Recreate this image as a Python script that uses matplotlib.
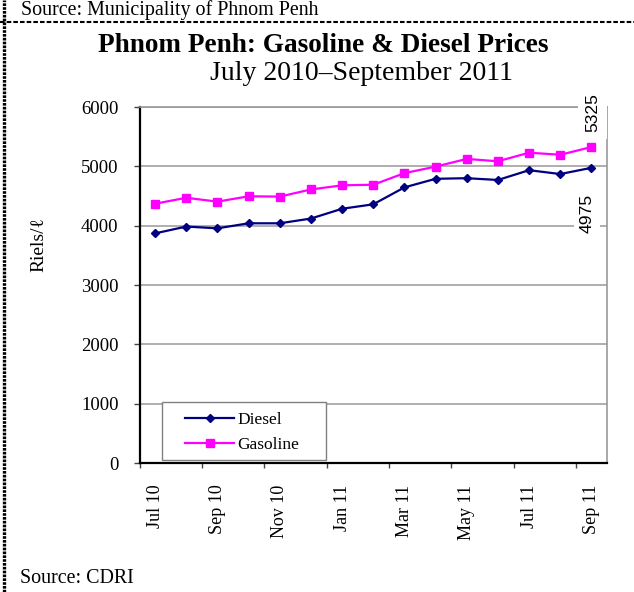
import matplotlib
matplotlib.use('Agg')
import matplotlib.pyplot as plt
from matplotlib.lines import Line2D
from matplotlib.patches import Rectangle
import numpy as np

# monthly prices, Jul 2010 - Sep 2011 (riels per litre)
MONTHS = ['Jul 10', 'Aug 10', 'Sep 10', 'Oct 10', 'Nov 10', 'Dec 10', 'Jan 11', 'Feb 11',
          'Mar 11', 'Apr 11', 'May 11', 'Jun 11', 'Jul 11', 'Aug 11', 'Sep 11']
diesel = [3870, 3985, 3955, 4040, 4040, 4120, 4285, 4360, 4645, 4790, 4800, 4770, 4935, 4870, 4975]
gasoline = [4370, 4470, 4405, 4495, 4490, 4610, 4680, 4690, 4885, 4995, 5125, 5085, 5230, 5195, 5325]
yticks = [0, 1000, 2000, 3000, 4000, 5000, 6000]

W, H = 634, 592
plt.rcParams['font.family'] = ['Liberation Serif', 'DejaVu Serif']

fig = plt.figure(figsize=(W / 100, H / 100), dpi=100)
ax = fig.add_axes([139.5 / W, 1 - 463 / H, 467.5 / W, 356 / H])

x = np.arange(len(MONTHS))
ax.plot(x, diesel, color='#000080', lw=1.6, marker='D', ms=4.5, label='Diesel', zorder=3)
ax.plot(x, gasoline, color='#FF00FF', lw=1.6, marker='s', ms=5.5, label='Gasoline', zorder=3)

ax.set_xlim(-0.5, len(MONTHS) - 0.5)
ax.set_ylim(0, 6000)
ax.set_yticks(yticks)
ax.set_yticklabels([str(v) for v in yticks], fontsize=13.5)
ax.yaxis.grid(True, color='#999999', lw=1.1)
ax.set_axisbelow(True)

# labels every other month, tick marks on category boundaries
ax.set_xticks(x[::2])
ax.set_xticklabels(MONTHS[::2], rotation=90, fontsize=13)
ax.set_xticks(np.arange(-0.5, len(MONTHS) - 1, 2), minor=True)
ax.tick_params(axis='x', which='major', length=0, pad=15.5)
ax.tick_params(axis='x', which='minor', length=3.8, width=1, color='#444444', direction='out')
ax.tick_params(axis='y', length=4.3, width=1, color='#444444', direction='out', pad=10.8)

for s in ['left', 'bottom']:
    ax.spines[s].set_linewidth(1.6)
    ax.spines[s].set_color('black')
for s in ['top', 'right']:
    ax.spines[s].set_linewidth(1.2)
    ax.spines[s].set_color('#999999')

# end-point value labels
ax.annotate(str(gasoline[-1]), xy=(x[-1], gasoline[-1]), xytext=(0.7, 24.8),
            textcoords='offset points', rotation=90, ha='center', va='center',
            fontsize=12.6, family='Liberation Sans',
            bbox=dict(facecolor='white', edgecolor='none', pad=5), zorder=5, annotation_clip=False)
ax.annotate(str(diesel[-1]), xy=(x[-1], diesel[-1]), xytext=(-3.2, -32.8),
            textcoords='offset points', rotation=90, ha='center', va='center',
            fontsize=12.6, family='Liberation Sans',
            bbox=dict(facecolor='white', edgecolor='none', pad=4), zorder=5, annotation_clip=False)

# legend box drawn separately so the entries can sit inset like the original
ax.add_patch(Rectangle((0.0485, 0.0084), 0.350, 0.163, transform=ax.transAxes,
                       facecolor='white', edgecolor='#808080', lw=1, zorder=4))
leg = ax.legend(loc='center left', bbox_to_anchor=(0.0965, 0.0857), fontsize=12.5,
                frameon=False, handlelength=2.87, handletextpad=0.15, borderpad=0,
                labelspacing=0.5, borderaxespad=0)
leg.set_zorder(6)

fig.text(38.5 / W, 1 - 245 / H, 'Riels/ℓ', rotation=90, ha='center', va='center', fontsize=14)

fig.text(323 / W, 1 - 52 / H, 'Phnom Penh: Gasoline & Diesel Prices', ha='center', va='baseline',
         fontsize=19.6, fontweight='bold')
fig.text(362 / W, 1 - 80 / H, 'July 2010\u2013September 2011', ha='center', va='baseline', fontsize=20)
fig.text(21 / W, 1 - 15 / H, 'Source: Municipality of Phnom Penh', ha='left', va='baseline', fontsize=14.4)
fig.text(20 / W, 1 - 583 / H, 'Source: CDRI', ha='left', va='baseline', fontsize=14.4)

# dashed frame pieces
fig.add_artist(Line2D([0, 1], [1 - 21.7 / H, 1 - 21.7 / H], transform=fig.transFigure,
                      color='black', lw=1.5, ls=(0, (2.2, 1.0))))
fig.add_artist(Line2D([4 / W, 4 / W], [0, 1], transform=fig.transFigure,
                      color='black', lw=2.4, ls=(0, (0.8, 0.35))))

fig.savefig('out.png', dpi=100)
